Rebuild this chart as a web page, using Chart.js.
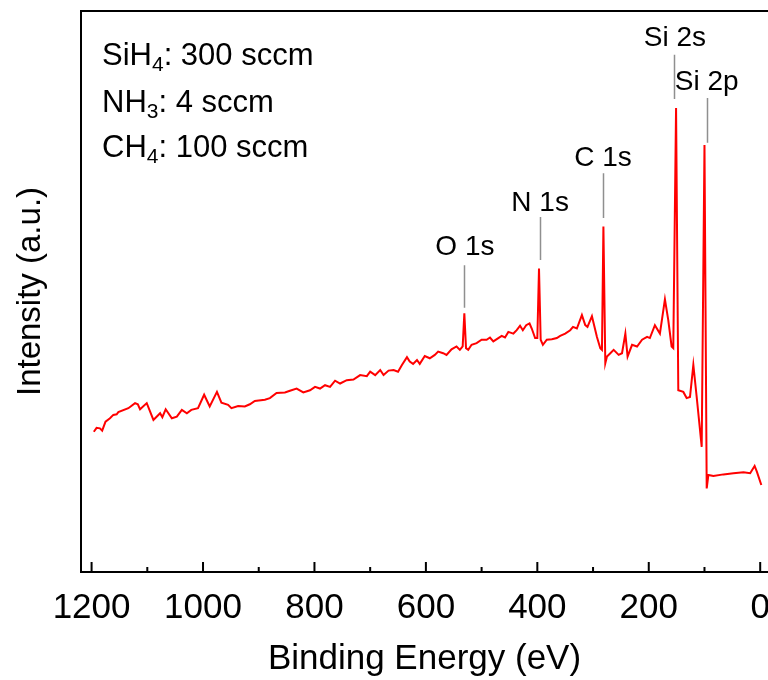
<!DOCTYPE html>
<html><head><meta charset="utf-8">
<script src="https://cdn.jsdelivr.net/npm/chart.js@4.4.0/dist/chart.umd.min.js"></script>
<style>html,body{margin:0;padding:0;background:#fff;overflow:hidden;}#wrap{width:768px;height:680px;}</style>
</head><body><div id="wrap"><canvas id="c" width="768" height="680"></canvas></div>
<script>
const energies = [1196,1191,1185,1181,1175,1167,1161,1155,1152,1134,
1122,1117,1113,1101,1089,1077,1073,1067,1056,1047,
1038,1029,1021,1009,998,988,975,967,955,949,
937,925,916,907,889,880,868,853,844,832,
820,808,799,790,781,772,763,754,742,730,
718,706,700,691,682,676,667,658,650,643,
634,629,623,616,611,602,593,584,578,569,
563,554,545,539,534,531,528,524,518,509,
500,491,485,479,470,464,458,452,443,437,
431,426,420,414,410,404,400,397,394,390,
383,374,365,359,350,341,336,329,320,314,
310,302,293,287,284,281.4,278,275,269,263,
254,248,242,238,230,221,212,203,198,189,
180,171,165,159,156,151,147,138,132,126,
120,114,108,105,100,96,93,84,66,48,
30,18,10,6,-2];
const intensities = [25.0,25.7,25.6,25.2,26.8,27.4,28.0,28.1,28.5,29.2,
30.1,29.9,29.0,30.1,27.1,28.3,27.6,29.0,27.4,27.7,
28.9,28.3,28.9,29.2,31.6,29.5,32.1,30.2,29.8,29.2,
29.6,29.5,29.9,30.5,30.7,31.0,31.9,32.0,32.3,32.7,
32.0,32.4,33.0,32.7,33.3,33.0,34.1,33.6,34.2,34.3,
35.1,34.9,35.7,35.1,36.0,35.1,35.9,36.0,35.7,36.9,
38.3,37.5,37.1,37.8,37.1,38.5,38.1,38.7,39.3,39.0,
38.7,39.7,40.2,39.6,40.2,46.1,39.9,39.6,40.5,40.8,
41.4,41.4,41.8,41.1,41.7,42.1,41.8,42.8,42.5,43.1,
43.9,43.1,44.0,44.3,43.4,41.7,41.7,54.1,41.4,40.5,
41.4,41.5,41.7,42.1,42.5,43.1,43.7,43.4,45.8,44.0,
43.7,45.6,41.9,39.9,39.6,61.6,37.2,38.4,39.0,39.6,
38.7,39.0,42.5,38.4,40.5,40.2,41.4,41.9,41.7,44.0,
42.5,48.6,44.9,40.2,39.9,82.7,32.4,32.1,31.0,31.2,
36.9,31.2,25.3,22.3,76.1,14.9,17.3,17.1,17.4,17.6,
17.8,17.6,18.9,17.9,15.5];
const majorTicks = [1200,1000,800,600,400,200,0];
const minorTicks = [1100,900,700,500,300,100];
const peakLabels = ['O 1s','N 1s','C 1s','Si 2s','Si 2p'];
const labelEnergies = [530,395,282,153,96];
const labelLevels = [57.8,65.8,73.8,95.2,87.3];
const markerEnergies = [531,396,282,154,96];
const markerTops = [54.7,63.3,71.1,92.2,84.5];
const markerBottoms = [47.1,55.6,63.1,84.3,76.5];
const recipeGas = ['SiH','NH','CH'];
const recipeSub = ['4','3','4'];
const recipeFlow = [': 300 sccm',': 4 sccm',': 100 sccm'];

const FONT = '"Liberation Sans", Arial, Helvetica, sans-serif';

const decor = {
  id: 'decor',
  afterDraw(chart) {
    const ctx = chart.ctx, a = chart.chartArea;
    const xs = chart.scales.x, ys = chart.scales.y;
    ctx.save();
    ctx.strokeStyle = '#000'; ctx.lineWidth = 2;
    ctx.beginPath();
    ctx.moveTo(a.right + 2, a.top); ctx.lineTo(a.left, a.top);
    ctx.lineTo(a.left, a.bottom); ctx.lineTo(a.right + 2, a.bottom);
    ctx.stroke();
    ctx.beginPath();
    majorTicks.forEach(v => { const p = xs.getPixelForValue(v); ctx.moveTo(p, a.bottom); ctx.lineTo(p, a.bottom - 10); });
    minorTicks.forEach(v => { const p = xs.getPixelForValue(v); ctx.moveTo(p, a.bottom); ctx.lineTo(p, a.bottom - 5); });
    ctx.stroke();
    ctx.strokeStyle = '#8f8f8f'; ctx.lineWidth = 1.5;
    ctx.beginPath();
    markerEnergies.forEach((e, i) => {
      const p = Math.round(xs.getPixelForValue(e)) + 0.5;
      ctx.moveTo(p, ys.getPixelForValue(markerTops[i]));
      ctx.lineTo(p, ys.getPixelForValue(markerBottoms[i]));
    });
    ctx.stroke();
    ctx.fillStyle = '#000';
    ctx.font = '28px ' + FONT;
    ctx.textAlign = 'center'; ctx.textBaseline = 'middle';
    peakLabels.forEach((t, i) => {
      ctx.fillText(t, xs.getPixelForValue(labelEnergies[i]), ys.getPixelForValue(labelLevels[i]));
    });
    ctx.textAlign = 'left'; ctx.textBaseline = 'alphabetic';
    const baseY = [54, 101, 146];
    recipeGas.forEach((g, i) => {
      let x = a.left + 21, y = a.top + baseY[i];
      ctx.font = '31px ' + FONT;
      ctx.fillText(g, x, y); x += ctx.measureText(g).width;
      ctx.font = '21px ' + FONT;
      ctx.fillText(recipeSub[i], x, y + 6); x += ctx.measureText(recipeSub[i]).width;
      ctx.font = '31px ' + FONT;
      ctx.fillText(recipeFlow[i], x, y);
    });
    ctx.restore();
  }
};

new Chart(document.getElementById('c'), {
  type: 'line',
  data: {
    datasets: [{
      data: energies.map((e, i) => ({x: e, y: intensities[i]})),
      borderColor: '#ff0000', borderWidth: 2, pointRadius: 0, tension: 0, fill: false
    }]
  },
  options: {
    responsive: false, animation: false, devicePixelRatio: 1,
    layout: {padding: {left: 0, right: 0, top: 11, bottom: 0}},
    plugins: {legend: {display: false}, tooltip: {enabled: false}},
    scales: {
      x: {
        type: 'linear', reverse: true, min: -14, max: 1219,
        afterBuildTicks: s => { s.ticks = majorTicks.map(v => ({value: v})); },
        afterFit: s => { s.height = 108; s.paddingLeft = 0; s.paddingRight = 0; },
        grid: {display: false, drawTicks: false},
        border: {display: false},
        ticks: {color: '#000', font: {family: FONT, size: 35}, padding: 15, maxRotation: 0, autoSkip: false,
                callback: v => String(v)},
        title: {display: true, text: 'Binding Energy (eV)', color: '#000', font: {family: FONT, size: 35}, padding: {top: 3, bottom: 0}}
      },
      y: {
        min: 0, max: 100,
        afterFit: s => { s.width = 81; },
        grid: {display: false, drawTicks: false},
        border: {display: false},
        ticks: {display: false},
        title: {display: true, text: 'Intensity (a.u.)', color: '#000', font: {family: FONT, size: 33}, padding: {top: 11, bottom: 0}}
      }
    }
  },
  plugins: [decor]
});
</script>
</body></html>
